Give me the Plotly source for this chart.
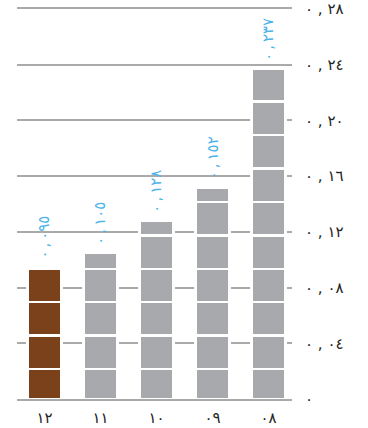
import plotly.graph_objects as go

categories = ["١٢", "١١", "١٠", "٠٩", "٠٨"]
values = [0.095, 0.105, 0.128, 0.152, 0.237]
bar_colors = ["#7b411b", "#a7a9ac", "#a7a9ac", "#a7a9ac", "#a7a9ac"]
ytick_vals = [0, 0.04, 0.08, 0.12, 0.16, 0.20, 0.24, 0.28]
ytick_text = ["٠", "٠\u200e ,\u200e ٠٤", "٠\u200e ,\u200e ٠٨", "٠\u200e ,\u200e ١٢",
              "٠\u200e ,\u200e ١٦", "٠\u200e ,\u200e ٢٠", "٠\u200e ,\u200e ٢٤", "٠\u200e ,\u200e ٢٨"]
value_labels = ["٠\u200e\u2009,\u200e\u2009٠٩٥", "٠\u200e\u2009,\u200e\u2009١٠٥",
                "٠\u200e\u2009,\u200e\u2009١٢٨", "٠\u200e\u2009,\u200e\u2009١٥٢",
                "٠\u200e\u2009,\u200e\u2009٢٣٧"]

# segment boundaries of the banded bars
first_seg = 0.0215
step = 0.024

def boundaries(v):
    b = [0.0]
    cur = first_seg
    while cur < v:
        b.append(cur)
        cur += step
    b.append(v)
    return b

segs = [boundaries(v) for v in values]
nseg = max(len(b) - 1 for b in segs)

fig = go.Figure()
for k in range(nseg):
    ys = []
    for b in segs:
        if k < len(b) - 1:
            ys.append(b[k + 1] - b[k])
        else:
            ys.append(0)
    fig.add_trace(go.Bar(
        x=categories, y=ys, width=0.6,
        marker=dict(color=bar_colors, line=dict(color="white", width=2.5)),
        showlegend=False, hoverinfo="skip",
    ))

for c, v, t in zip(categories, values, value_labels):
    fig.add_annotation(
        x=c, y=v, text=t, showarrow=False, textangle=-90,
        xanchor="center", yanchor="bottom", yshift=6,
        font=dict(family="DejaVu Sans", size=15, color="#4db3e8"),
    )

fig.update_layout(
    barmode="stack",
    width=368, height=428,
    margin=dict(l=17, r=76, t=9, b=29),
    paper_bgcolor="white", plot_bgcolor="white",
    font=dict(family="DejaVu Sans", size=15, color="#222222"),
    xaxis=dict(
        type="category", range=[-0.49, 4.42],
        showgrid=False, zeroline=False,
        showline=True, mirror=True, linecolor="#aaaaaa", linewidth=1.5,
        ticks="", ticklabelstandoff=4, automargin=False,
    ),
    yaxis=dict(
        side="right", range=[0, 0.28],
        tickvals=ytick_vals, ticktext=ytick_text,
        showgrid=True, gridcolor="#aaaaaa", gridwidth=1.5,
        zeroline=False, showline=False, ticks="",
        ticklabelstandoff=12, automargin=False,
    ),
)

fig.write_html("out.html")
